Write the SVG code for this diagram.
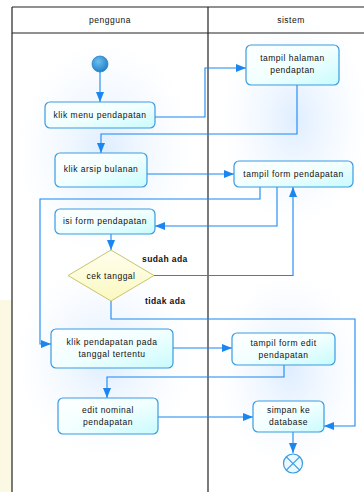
<svg xmlns="http://www.w3.org/2000/svg" width="364" height="492" viewBox="0 0 364 492">
<defs>
<linearGradient id="nodeFill" x1="0" y1="0" x2="1" y2="1">
<stop offset="0" stop-color="#ffffff"/>
<stop offset="0.5" stop-color="#f2ffff"/>
<stop offset="1" stop-color="#c8fbfd"/>
</linearGradient>
<radialGradient id="glow" cx="0.5" cy="0.5" r="0.5">
<stop offset="0" stop-color="#d6e9ff" stop-opacity="0.8"/>
<stop offset="1" stop-color="#eef6ff" stop-opacity="0"/>
</radialGradient>
<radialGradient id="startFill" cx="0.4" cy="0.35" r="0.7">
<stop offset="0" stop-color="#6cc0f0"/>
<stop offset="1" stop-color="#1f7cc4"/>
</radialGradient>
<linearGradient id="diaFill" x1="0" y1="0" x2="0" y2="1">
<stop offset="0" stop-color="#fffff0"/>
<stop offset="1" stop-color="#fbf8c0"/>
</linearGradient>
<marker id="arr" viewBox="0 0 10 8" refX="10" refY="4" markerWidth="10" markerHeight="8" markerUnits="userSpaceOnUse" orient="auto">
<path d="M0,0 L10,4 L0,8 z" fill="#1a86f0"/>
</marker>
<style>
.lane{fill:none;stroke:#222;stroke-width:1.2}
.node{fill:url(#nodeFill);stroke:#3a9be0;stroke-width:1.2}
.t{font-family:"Liberation Sans",Arial,sans-serif;font-size:8.5px;letter-spacing:0.5px;fill:#111;text-anchor:middle}
.b{font-family:"Liberation Sans",Arial,sans-serif;font-size:8.5px;letter-spacing:0.4px;font-weight:bold;fill:#111}
.c{fill:none;stroke:#1a86f0;stroke-width:1.1;marker-end:url(#arr)}
</style>
</defs>
<rect x="0" y="0" width="364" height="492" fill="#ffffff"/>
<rect x="0" y="300" width="12" height="192" fill="#fbf9e4"/>
<!-- background glows -->
<ellipse cx="105" cy="150" rx="90" ry="110" fill="url(#glow)"/>
<ellipse cx="105" cy="360" rx="90" ry="100" fill="url(#glow)"/>
<ellipse cx="295" cy="120" rx="75" ry="110" fill="url(#glow)"/>
<ellipse cx="290" cy="370" rx="75" ry="100" fill="url(#glow)"/>
<g id="lanes">
<line class="lane" x1="12" y1="7" x2="364" y2="7"/>
<line class="lane" x1="12" y1="33" x2="364" y2="33"/>
<line class="lane" x1="12" y1="7" x2="12" y2="492"/>
<line class="lane" x1="208" y1="7" x2="208" y2="492"/>
<text class="t" x="110" y="23">pengguna</text>
<text class="t" x="291" y="23">sistem</text>
</g>
<g id="connectors">
<path class="c" d="M100,72 L100,102"/>
<path class="c" d="M155,117 L205,117 L205,68 L246,68"/>
<path class="c" d="M297,85 L297,134 L101,134 L101,153"/>
<path class="c" d="M147,174 L234,174"/>
<path class="c" d="M260,187 L260,199 L40,199 L40,344 L51,344"/>
<path class="c" d="M277,187 L277,226 L155,226"/>
<path class="c" d="M111,234 L111,250"/>
<path class="c" d="M154,275.5 L293,275.5 L293,187"/>
<path class="c" d="M111,301 L111,319 L355,319 L355,426 L324,426"/>
<path class="c" d="M173,348 L232,348"/>
<path class="c" d="M284,365 L284,377 L107,377 L107,398"/>
<path class="c" d="M158,417 L253,417"/>
<path class="c" d="M293,432 L293,453"/>
<text class="b" x="142" y="262">sudah ada</text>
<text class="b" x="145" y="304">tidak ada</text>
</g>
<g id="start">
<circle cx="100" cy="64" r="8" fill="url(#startFill)" stroke="#2a86cc" stroke-width="0.8"/>
</g>
<g id="klik-menu">
<rect class="node" x="45" y="102" width="110" height="26" rx="5"/>
<text class="t" x="100" y="118">klik menu pendapatan</text>
</g>
<g id="tampil-halaman">
<rect class="node" x="246" y="45" width="93" height="40" rx="5"/>
<text class="t" x="292.5" y="61">tampil halaman</text>
<text class="t" x="292.5" y="73">pendaptan</text>
</g>
<g id="klik-arsip">
<rect class="node" x="55" y="153" width="92" height="34" rx="5"/>
<text class="t" x="101" y="172">klik arsip bulanan</text>
</g>
<g id="tampil-form">
<rect class="node" x="234" y="161" width="119" height="26" rx="5"/>
<text class="t" x="293.5" y="176.5">tampil form pendapatan</text>
</g>
<g id="isi-form">
<rect class="node" x="55" y="209" width="100" height="25" rx="5"/>
<text class="t" x="105" y="224">isi form pendapatan</text>
</g>
<g id="cek-tanggal">
<polygon points="111,250 154,275.5 111,301 68,275.5" fill="url(#diaFill)" stroke="#c9c46a" stroke-width="1"/>
<text class="t" x="111" y="278.5">cek tanggal</text>
</g>
<g id="klik-pendapatan">
<rect class="node" x="51" y="329" width="122" height="39" rx="5"/>
<text class="t" x="112" y="345">klik pendapatan pada</text>
<text class="t" x="112" y="357">tanggal tertentu</text>
</g>
<g id="tampil-form-edit">
<rect class="node" x="232" y="333" width="103" height="32" rx="5"/>
<text class="t" x="283.5" y="346">tampil form edit</text>
<text class="t" x="283.5" y="358">pendapatan</text>
</g>
<g id="edit-nominal">
<rect class="node" x="58" y="398" width="100" height="36" rx="5"/>
<text class="t" x="108" y="413">edit nominal</text>
<text class="t" x="108" y="425">pendapatan</text>
</g>
<g id="simpan">
<rect class="node" x="253" y="401" width="71" height="31" rx="5"/>
<text class="t" x="288.5" y="413">simpan ke</text>
<text class="t" x="288.5" y="425">database</text>
</g>
<g id="end">
<circle cx="293" cy="463.5" r="9.5" fill="#eaf8ff" stroke="#3a9be0" stroke-width="1.2"/>
<path d="M286.3,456.8 L299.7,470.2 M299.7,456.8 L286.3,470.2" stroke="#3a9be0" stroke-width="1.2"/>
</g>
</svg>
